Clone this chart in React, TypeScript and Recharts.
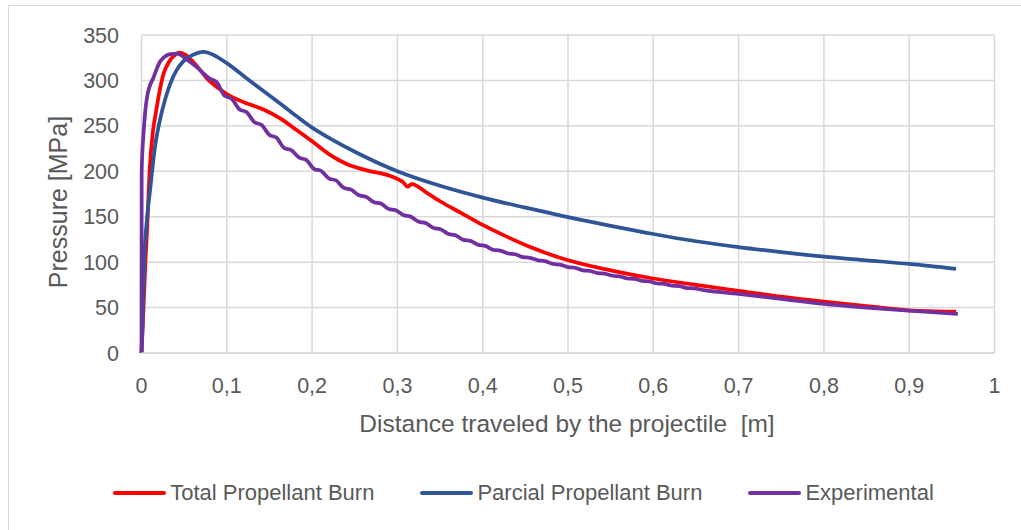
import React from "react"
import { LineChart, Line, XAxis, YAxis, CartesianGrid, Legend } from "recharts"

// distance [m] vs pressure [MPa]
const totalBurn: [number, number][] = [
  [0, 0], [0.0015, 30], [0.0045, 99], [0.0065, 135], [0.0095, 200], [0.0135, 245],
  [0.0164, 262], [0.022, 292], [0.026, 308], [0.032, 320], [0.0378, 327], [0.0448, 330.5],
  [0.052, 328], [0.061, 320], [0.07, 310], [0.077, 302], [0.088, 293], [0.1, 285],
  [0.12, 276], [0.143, 268], [0.163, 258], [0.181, 246], [0.2, 233], [0.221, 218],
  [0.2405, 208], [0.264, 201], [0.291, 195], [0.3066, 188], [0.312, 183], [0.3166, 186],
  [0.335, 176], [0.35, 167], [0.375, 154], [0.4, 141], [0.425, 129.5], [0.455, 117],
  [0.5, 102], [0.55, 91], [0.6, 82], [0.65, 75], [0.7, 68.5], [0.75, 62], [0.8, 56.5],
  [0.85, 51.5], [0.9, 47], [0.955, 45.5],
]

const partialBurn: [number, number][] = [
  [0, 0], [0.001, 25], [0.003, 98], [0.0065, 148], [0.0105, 183], [0.016, 228],
  [0.022, 258], [0.028, 280], [0.034, 297], [0.041, 311], [0.049, 321], [0.06, 328],
  [0.0727, 331.5], [0.0885, 326], [0.1, 319], [0.125, 301], [0.15, 283.5], [0.175, 265.5],
  [0.2, 248], [0.225, 234], [0.25, 221.5], [0.3, 200], [0.35, 184], [0.4, 171], [0.45, 160],
  [0.5, 149.5], [0.55, 140], [0.6, 131], [0.65, 123], [0.7, 116.5], [0.75, 111],
  [0.8, 106], [0.85, 102], [0.9, 98], [0.955, 92.5],
]

const experimental: [number, number][] = [
  [0, 0], [0.0002, 200], [0.0027, 246], [0.0066, 282], [0.0144, 304], [0.022, 321],
  [0.034, 329], [0.042, 329.5], [0.053, 323], [0.065, 314.5],
  [0.08, 302], [0.088, 298.2], [0.0975, 283], [0.1055, 280], [0.115, 268], [0.123, 265.2],
  [0.1325, 254], [0.1405, 251.2], [0.15, 240], [0.158, 237.1], [0.1675, 225.5], [0.1755, 223.4],
  [0.185, 215], [0.193, 212.5], [0.2025, 202.5], [0.2105, 200.4], [0.22, 192], [0.228, 189.9],
  [0.2375, 181.5], [0.2455, 179.9], [0.255, 173.5], [0.263, 172], [0.2725, 166], [0.2805, 164.5],
  [0.29, 158.5], [0.298, 157.1], [0.3075, 151.5], [0.3155, 150.1], [0.325, 144.5], [0.333, 143.1],
  [0.3425, 137.5], [0.3505, 136.2], [0.36, 131], [0.368, 129.7], [0.3775, 124.5], [0.3855, 123.4],
  [0.395, 119], [0.403, 117.9], [0.4125, 113.5], [0.4205, 112.7], [0.43, 109.5], [0.438, 108.7],
  [0.4475, 105.5], [0.4555, 104.8], [0.465, 102], [0.473, 101.2], [0.4825, 98], [0.4905, 97.3],
  [0.5, 94.5], [0.508, 93.8], [0.5175, 91], [0.5255, 90.4], [0.535, 88], [0.543, 87.4],
  [0.5525, 85], [0.5605, 84.4], [0.57, 82], [0.578, 81.5], [0.5875, 79.3], [0.5955, 78.7],
  [0.605, 76.5], [0.613, 76], [0.6225, 74], [0.6305, 73.5], [0.64, 71.5], [0.648, 71.1],
  [0.6575, 69.5], [0.7, 65], [0.75, 59.5], [0.8, 54], [0.85, 50], [0.9, 46.5], [0.957, 43],
]

const xTicks = [0, 0.1, 0.2, 0.3, 0.4, 0.5, 0.6, 0.7, 0.8, 0.9, 1]
const yTicks = [0, 50, 100, 150, 200, 250, 300, 350]

const seriesNames = ["Total Propellant Burn", "Parcial Propellant Burn", "Experimental"]
const seriesColors = ["#ff0000", "#2f5597", "#7030a0"]

const toPoints = (rows: [number, number][]) => rows.map(([x, y]) => ({ x, y }))

const FONT = "'Liberation Sans', Arial, sans-serif"
const TEXT = "#595959"
const GRID = "#d9d9d9"

const formatX = (v: number) => String(v).replace(".", ",")

function LegendRow() {
  return (
    <div style={{ display: "flex", justifyContent: "center", alignItems: "center", fontFamily: FONT, fontSize: 22, color: TEXT }}>
      {seriesNames.map((name, i) => (
        <div key={name} style={{ display: "flex", alignItems: "center", marginRight: i < seriesNames.length - 1 ? 46 : 0 }}>
          <svg width={53} height={8}>
            <line x1={2} y1={4} x2={51} y2={4} stroke={seriesColors[i]} strokeWidth={4} strokeLinecap="round" />
          </svg>
          <span style={{ marginLeft: 4, lineHeight: "26px" }}>{name}</span>
        </div>
      ))}
    </div>
  )
}

export default function App() {
  return (
    <div style={{ position: "fixed", left: 0, top: 0, width: 1021, height: 530, background: "#fff", overflow: "hidden" }}>
      <div style={{ position: "absolute", left: 8, top: 5, width: 1040, height: 560, border: `1.5px solid ${GRID}` }} />
      <div style={{ position: "absolute", left: 0, top: 0 }}>
        <LineChart width={1021} height={530} margin={{ top: 35, right: 26.5, left: 81.5, bottom: 117 }} style={{ fontFamily: FONT }}>
          <CartesianGrid stroke={GRID} strokeWidth={1.5} />
          <XAxis
            dataKey="x"
            type="number"
            domain={[0, 1]}
            ticks={xTicks}
            tickFormatter={formatX}
            height={60}
            axisLine={{ stroke: GRID, strokeWidth: 1.5 }}
            tickLine={false}
            tickSize={6}
            tickMargin={18.5}
            tick={{ fill: TEXT, fontSize: 21.5, fontFamily: FONT }}
            label={{
              content: () => (
                <text x={567} y={432} textAnchor="middle" fill={TEXT} fontSize={24.5} fontFamily={FONT} style={{ whiteSpace: "pre" }}>
                  {"Distance traveled by the projectile  [m]"}
                </text>
              ),
            }}
          />
          <YAxis
            type="number"
            domain={[0, 350]}
            ticks={yTicks}
            width={60}
            axisLine={false}
            tickLine={false}
            tickSize={6}
            tickMargin={16.5}
            tick={{ fill: TEXT, fontSize: 21.5, fontFamily: FONT }}
            label={{
              content: () => (
                <text x={67} y={202} transform="rotate(-90 67 202)" textAnchor="middle" fill={TEXT} fontSize={25} fontFamily={FONT}>
                  Pressure [MPa]
                </text>
              ),
            }}
          />
          <Legend
            layout="horizontal"
            verticalAlign="middle"
            align="center"
            content={<LegendRow />}
            wrapperStyle={{ top: 480, left: 8, width: 1031 }}
          />
          <Line data={toPoints(totalBurn)} dataKey="y" name={seriesNames[0]} type="monotone" stroke={seriesColors[0]} strokeWidth={3.75} dot={false} activeDot={false} isAnimationActive={false} />
          <Line data={toPoints(partialBurn)} dataKey="y" name={seriesNames[1]} type="monotone" stroke={seriesColors[1]} strokeWidth={3.75} dot={false} activeDot={false} isAnimationActive={false} />
          <Line data={toPoints(experimental)} dataKey="y" name={seriesNames[2]} type="monotone" stroke={seriesColors[2]} strokeWidth={3.75} dot={false} activeDot={false} isAnimationActive={false} />
        </LineChart>
      </div>
    </div>
  )
}
